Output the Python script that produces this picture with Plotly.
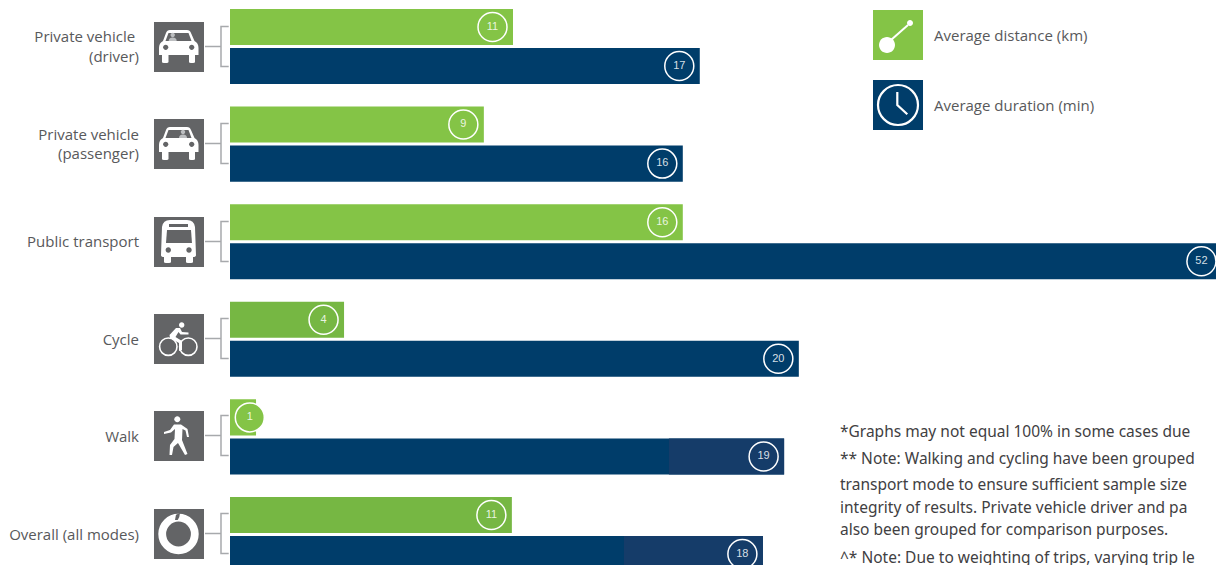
import re
import plotly.graph_objects as go

modes = ["Private vehicle <br>(driver)", "Private vehicle<br>(passenger)", "Public transport",
         "Cycle", "Walk", "Overall (all modes)"]
distance_labels = ["11", "9", "16", "4", "1", "11"]
duration_labels = ["17", "16", "52", "20", "19", "18"]
# bar lengths as drawn in the picture (the source bars are not strictly proportional to their labels)
distance_bars = [10.0, 8.97, 16.0, 4.03, 0.92, 9.96]
duration_bars = [16.6, 16.0, 35.05, 20.1, 19.58, 18.83]
duration_shade_start = [None, None, None, None, 15.51, 13.92]
distance_colors = ["#84c446", "#84c446", "#84c446", "#76b743", "#84c446", "#76b743"]
legend_labels = ["Average distance (km)", "Average duration (min)"]
notes = [
    "*Graphs may not equal 100% in some cases due",
    "** Note: Walking and cycling have been grouped",
    "transport mode to ensure sufficient sample size",
    "integrity of results. Private vehicle driver and pa",
    "also been grouped for comparison purposes.",
    "^* Note: Due to weighting of trips, varying trip le",
]

W, H = 1216, 565
PITCH = 97.6
SCALE = 28.3
GREY, NAVY, SHADE = "#636466", "#003d6a", "#153c69"
TEXT = "#58595b"
FONT = "Open Sans"

rows = list(range(len(modes)))
fig = go.Figure()
fig.add_bar(y=rows, x=distance_bars, orientation="h", offsetgroup="a",
            marker=dict(color=distance_colors, line_width=0), hoverinfo="skip")
fig.add_bar(y=rows, x=duration_bars, orientation="h", offsetgroup="b",
            marker=dict(color=NAVY, line_width=0), hoverinfo="skip")
shade_x = [None if s is None else d - s for s, d in zip(duration_shade_start, duration_bars)]
fig.add_bar(y=rows, x=shade_x, base=duration_shade_start, orientation="h", offsetgroup="b",
            marker=dict(color=SHADE, line_width=0), hoverinfo="skip")

INSET = 20.5 / SCALE
badge_font = dict(family="Liberation Sans", size=11, color="rgba(255,255,255,0.85)")
fig.add_scatter(
    y=[r - 0.2 for r in rows], x=[max(v - INSET, 0.7) for v in distance_bars],
    mode="markers+text", text=distance_labels, textposition="middle center", textfont=badge_font,
    marker=dict(size=29, color=["rgba(0,0,0,0)" if v > 1 else "#84c446" for v in distance_bars],
                line=dict(color="white", width=1.5)), hoverinfo="skip", cliponaxis=False)
fig.add_scatter(
    y=[r + 0.2 for r in rows], x=[v - INSET for v in duration_bars],
    mode="markers+text", text=duration_labels, textposition="middle center", textfont=badge_font,
    marker=dict(size=29, color="rgba(0,0,0,0)", line=dict(color="white", width=1.5)),
    hoverinfo="skip")


def transform(path, ox, oy):
    toks = re.findall(r"[A-Za-z]|-?[\d.]+", path)
    out, i = [], 0
    for t in toks:
        if t.isalpha():
            out.append(t)
        else:
            if i % 2 == 0:
                out.append(f"{(ox + float(t)) / W:.5f}")
            else:
                out.append(f"{1 - (oy + float(t)) / H:.5f}")
            i += 1
    return " ".join(out)


def circle(cx, cy, r):
    k = 0.5523 * r
    return (f"M {cx-r} {cy} C {cx-r} {cy-k} {cx-k} {cy-r} {cx} {cy-r} "
            f"C {cx+k} {cy-r} {cx+r} {cy-k} {cx+r} {cy} "
            f"C {cx+r} {cy+k} {cx+k} {cy+r} {cx} {cy+r} "
            f"C {cx-k} {cy+r} {cx-r} {cy+k} {cx-r} {cy} Z")


shapes = []


def fill(ox, oy, path, color="white"):
    shapes.append(dict(type="path", xref="paper", yref="paper", path=transform(path, ox, oy),
                       fillcolor=color, line_width=0, layer="above"))


def stroke(ox, oy, path, color="white", width=2.0):
    shapes.append(dict(type="path", xref="paper", yref="paper", path=transform(path, ox, oy),
                       line=dict(color=color, width=width), layer="above"))


def square(ox, oy, color):
    fill(ox, oy, "M 0 0 L 50 0 L 50 50 L 0 50 Z", color)


CAR = ("M 12 11 Q 13 8 16 8 L 33 8 Q 36 8 37 11 L 40.5 19 Q 44.5 21 44.5 26 L 44.5 33 L 41 33 L 41 40 "
       "Q 41 41 39 41 L 37 41 Q 35 41 35 40 L 35 33 L 14.5 33 L 14.5 40 Q 14.5 41 12.5 41 L 10 41 "
       "Q 8 41 8 40 L 8 33 L 5 33 L 5 26 Q 5 21 9 19 Z")
WINDOW = "M 14.5 11 L 34.5 11 L 37.5 19 L 11.5 19 Z"


def car(ox, oy, person_x):
    fill(ox, oy, CAR)
    fill(ox, oy, WINDOW, GREY)
    fill(ox, oy, circle(11.7, 25.3, 2.6), GREY)
    fill(ox, oy, circle(37.7, 25.3, 2.6), GREY)
    fill(ox, oy, circle(person_x, 13, 2.2), "#bcbec0")
    fill(ox, oy, f"M {person_x-4} 19 Q {person_x-4} 15.5 {person_x} 15.5 Q {person_x+4} 15.5 {person_x+4} 19 Z", "#bcbec0")


def bus(ox, oy):
    fill(ox, oy, "M 8 10 Q 9 3 16 3 L 33 3 Q 40 3 41 10 L 42 38 Q 42 40 39 40 L 39 45 Q 39 46 37 46 "
                 "L 34 46 Q 32 46 32 45 L 32 40 L 17 40 L 17 45 Q 17 46 15 46 L 12 46 Q 10 46 10 45 "
                 "L 10 40 Q 7 40 7 38 Z")
    fill(ox, oy, "M 13 13 L 37 13 L 38 26 L 12 26 Z", GREY)
    fill(ox, oy, "M 15 7 L 34 7 L 34 10 L 15 10 Z", GREY)
    fill(ox, oy, circle(14.3, 33, 2.7), GREY)
    fill(ox, oy, circle(35, 33, 2.7), GREY)


def cycle(ox, oy):
    stroke(ox, oy, circle(14.3, 32.7, 8.7), "white", 1.6)
    stroke(ox, oy, circle(34.3, 32.7, 8.7), "white", 1.6)
    fill(ox, oy, circle(27.7, 11, 2.7))
    fill(ox, oy, "M 22 14 L 26 14 L 28 18 L 34.5 18.5 L 34.5 20.5 L 26.5 20.5 L 24.5 18 L 21.5 23 L 28 27 "
                 "L 28 36 L 25 37 L 25 29 L 16 24 L 15.5 21 Z")


def walk(ox, oy):
    fill(ox, oy, circle(23.3, 8.3, 3))
    fill(ox, oy, "M 20 13.5 L 27 13.5 L 33.5 18 L 35 26 L 33 26 L 31.5 19.5 L 28.5 18 L 28 29 L 33.5 43 "
                 "L 31 44 L 24 32 L 19.5 36 L 18 44 L 15.5 44 L 16 34 L 20.5 28 L 21 18 L 17 21.5 L 10 23 "
                 "L 10 21 L 16 19 Z")


def overall(ox, oy):
    stroke(ox, oy, circle(24.5, 25, 16.3), "white", 7.8)
    fill(ox, oy, "M 26 4 L 22 5.7 L 21 11 L 23.7 11 L 25.3 8 Z", GREY)


icon_tops = [22, 119, 217, 314, 411, 509]
for i, top in enumerate(icon_tops):
    square(154, top, GREY)
car(154, icon_tops[0], 18.7)
car(154, icon_tops[1], 29)
bus(154, icon_tops[2])
cycle(154, icon_tops[3])
walk(154, icon_tops[4])
overall(154, icon_tops[5])

for top in icon_tops:
    stroke(0, top, "M 205 24.5 L 221 24.5", "#a7a9ac", 1.5)
    stroke(0, top, "M 228.7 4.5 L 221 4.5 L 221 44.5 L 228.7 44.5", "#a7a9ac", 1.5)

square(873, 10, "#84c446")
fill(873, 10, circle(14, 35, 8))
fill(873, 10, circle(37, 13, 3))
stroke(873, 10, "M 18 30 L 35 15", "white", 2)
square(873, 80, NAVY)
stroke(873, 80, circle(25, 25, 20), "white", 2.2)
stroke(873, 80, "M 24.3 12 L 24.3 25 L 34.3 34.3", "white", 2.2)

annotations = [
    dict(x=932 / W, y=1 - 35 / H, text=legend_labels[0]),
    dict(x=932 / W, y=1 - 105 / H, text=legend_labels[1]),
]
for a in annotations:
    a.update(xref="paper", yref="paper", xanchor="left", yanchor="middle", showarrow=False,
             font=dict(family=FONT, size=15, color=TEXT))
note_rows = [430.5, 458, 484, 506.5, 529, 557]
for t, y in zip(notes, note_rows):
    annotations.append(dict(x=838 / W, y=1 - y / H, text=t, xref="paper", yref="paper",
                            xanchor="left", yanchor="middle", showarrow=False,
                            font=dict(family="Noto Sans", size=15.5, color="#414042")))

fig.update_layout(
    width=W, height=H, autosize=False, margin=dict(l=0, r=0, t=0, b=0),
    paper_bgcolor="white", plot_bgcolor="white", showlegend=False,
    barmode="group", bargap=0.2, bargroupgap=0.077,
    shapes=shapes, annotations=annotations,
    xaxis=dict(domain=[230 / W, 1], range=[0, (W - 230) / SCALE], visible=False),
    yaxis=dict(range=[(H - 46.5) / PITCH, -46.5 / PITCH], tickmode="array", tickvals=rows, ticktext=modes,
               showgrid=False, zeroline=False, showline=False, ticks="", ticklabelstandoff=90,
               tickfont=dict(family=FONT, size=15, color=TEXT)),
)
fig.write_html("out.html", config=dict(displayModeBar=False),
               post_script="document.body.style.margin='0';document.body.style.overflow='hidden';")
